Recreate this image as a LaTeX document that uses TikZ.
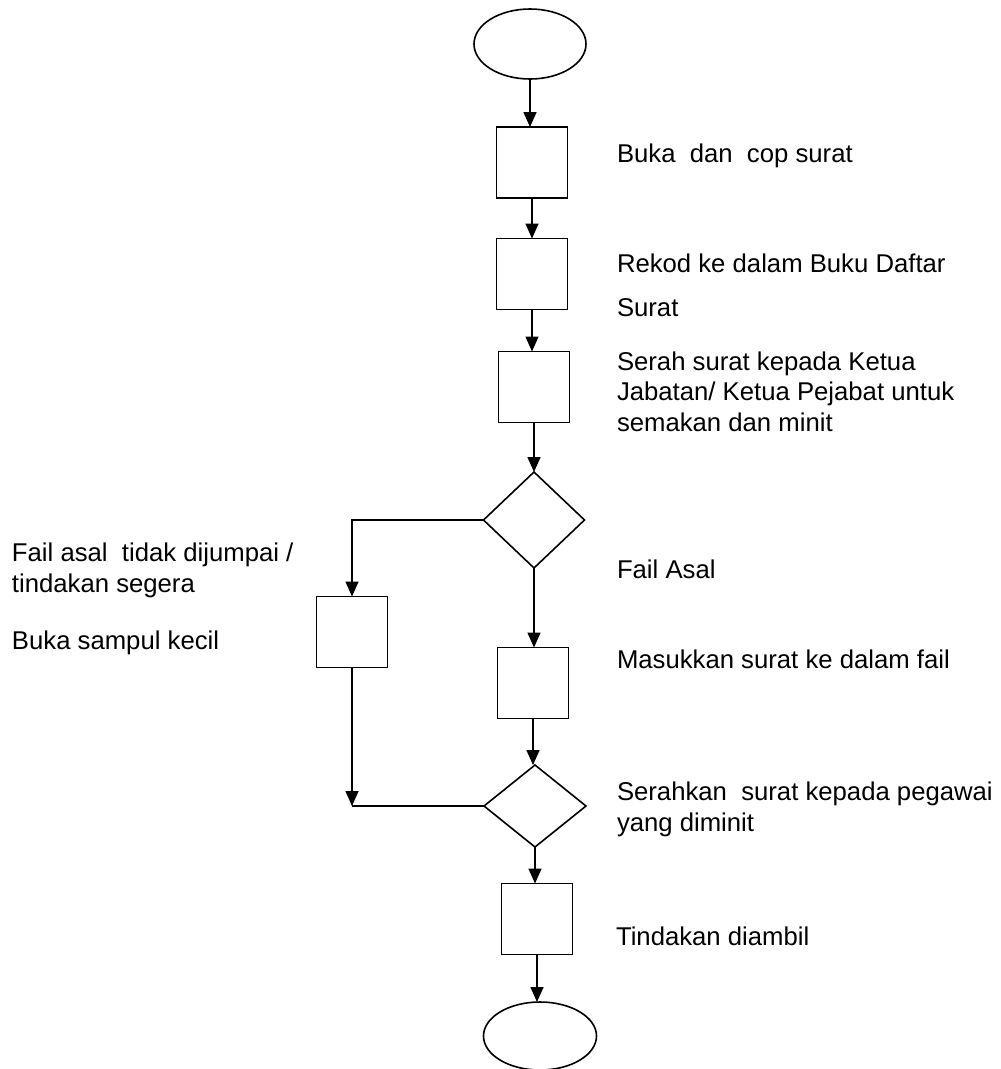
\documentclass[tikz,border=0pt]{standalone}
\usepackage{fontspec}
\setmainfont{Liberation Sans}
\usetikzlibrary{shapes.geometric,arrows.meta}
\begin{document}
\begin{tikzpicture}[x=1pt,y=-1pt,
  every node/.style={inner sep=0pt,outer sep=0pt},
  box/.style={draw,line width=1.6pt,rectangle,minimum width=71pt,minimum height=71pt},
  dec/.style={draw,line width=1.6pt,diamond},
  term/.style={draw,line width=1.6pt,ellipse},
  lbl/.style={anchor=base west,align=left,font=\fontsize{25.7}{30.5}\selectfont},
  arr/.style={line width=1.6pt,-{Triangle[length=15pt,width=13pt]}},
  ln/.style={line width=1.6pt}]
\useasboundingbox (0,0) rectangle (1001,1069);
% shapes
\node[term,minimum width=112pt,minimum height=70pt] (start) at (530,44) {};
\node[box] (r1) at (532,162.5) {};
\node[box] (r2) at (532,274) {};
\node[box] (r3) at (534,387) {};
\node[dec,minimum width=101pt,minimum height=96pt] (d1) at (534,520) {};
\node[box] (rl) at (352,632) {};
\node[box] (r4) at (533,683) {};
\node[dec,minimum width=102pt,minimum height=82pt] (d2) at (535,806) {};
\node[box] (r5) at (537,919) {};
\node[term,minimum width=113pt,minimum height=68pt] (end) at (540,1036) {};
% connectors
\draw[arr] (start.south) -- (start.south |- r1.north);
\draw[arr] (r1.south) -- (r1.south |- r2.north);
\draw[arr] (r2.south) -- (r2.south |- r3.north);
\draw[arr] (r3.south) -- (r3.south |- d1.north);
\draw[arr] (d1.south) -- (d1.south |- r4.north);
\draw[arr] (d1.west) -| (rl.north);
\draw[arr] (r4.south) -- (r4.south |- d2.north);
\coordinate (join) at (rl.south |- d2.west);
\draw[arr] (rl.south) -- (join);
\draw[ln] (join) -- (d2.west);
\draw[arr] (d2.south) -- (d2.south |- r5.north);
\draw[arr] (r5.south) -- (r5.south |- end.north);
% labels (base = baseline of the last line)
\node[lbl] (t1) at (617,162) {Buka\ \ dan\ \ cop surat};
\node[lbl] (t2) at (617,316) {Rekod ke dalam Buku Daftar\\[13pt]Surat};
\node[lbl] (t3) at (617,431) {Serah surat kepada Ketua\\Jabatan/ Ketua Pejabat untuk\\semakan dan minit};
\node[lbl] (t4) at (617,578) {Fail Asal};
\node[lbl] (t5) at (617,668) {Masukkan surat ke dalam fail};
\node[lbl] (t6) at (617,831) {Serahkan\ \ surat kepada pegawai\\yang diminit};
\node[lbl] (t7) at (616,945) {Tindakan diambil};
\node[lbl] (t8) at (12,592) {Fail asal\ \ tidak dijumpai /\\tindakan segera};
\node[lbl] (t9) at (12,649) {Buka sampul kecil};
\end{tikzpicture}
\end{document}
